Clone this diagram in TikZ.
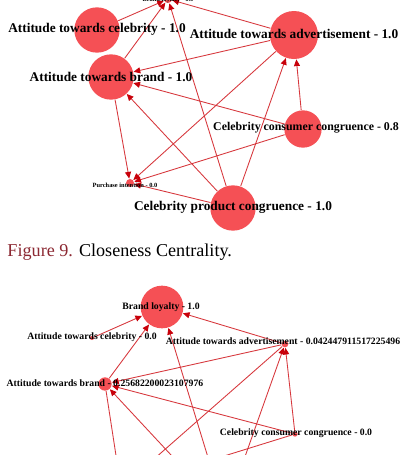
\documentclass[tikz,border=0pt]{standalone}
\usepackage{fontspec}
\setmainfont{Liberation Serif}
\usetikzlibrary{arrows.meta}

\definecolor{dotred}{RGB}{245,80,85}
\definecolor{edgered}{RGB}{215,55,60}
\definecolor{tipred}{RGB}{200,0,10}
\definecolor{capred}{RGB}{140,40,50}

\tikzset{every picture/.style={line width=0.75pt}}
\tikzset{
  dot/.style={circle,fill=dotred,draw=none,inner sep=0pt},
  edge/.style={draw=edgered,line width=0.65pt,-{Triangle[length=5pt,width=4.5pt,color=tipred]}},
  biglab/.style={font=\bfseries\fontsize{10}{11}\selectfont,inner sep=0.75pt},
  midlab/.style={font=\bfseries\fontsize{8.9}{10}\selectfont,inner sep=0.75pt},
  smalllab/.style={font=\bfseries\fontsize{7.3}{8}\selectfont,inner sep=0.75pt},
  tinylab/.style={font=\bfseries\fontsize{4.8}{5}\selectfont,inner sep=0.75pt}
}

\begin{document}
\begin{tikzpicture}[x=0.75pt,y=0.75pt,yscale=-1,xscale=1]
\useasboundingbox (0,0) rectangle (403,455);
\fill[white] (0,0) rectangle (403,455);
\clip (0,0) rectangle (403,455);

% ---- upper graph ----
%Shape: Circle
\node [dot,minimum size=6] (tBL) at (168,-1) {};
\node [dot,minimum size=34] (tATC) at (97,30) {};
\node [dot,minimum size=36] (tATA) at (294,35) {};
\node [dot,minimum size=34] (tATB) at (111,77) {};
\node [dot,minimum size=28] (tCCC) at (303,129) {};
\node [dot,minimum size=6] (tPI) at (130,183) {};
\node [dot,minimum size=34] (tCPC) at (233,208) {};

%Straight Lines
\draw [edge] (tATC) -- (tBL);
\draw [edge] (tATB) -- (tBL);
\draw [edge] (tCPC) -- (tBL);
\draw [edge] (tATA) -- (tBL);
\draw [edge] (tATA) -- (tATB);
\draw [edge] (tATA) -- (tPI);
\draw [edge] (tCCC) -- (tATA);
\draw [edge] (tCPC) -- (tATA);
\draw [edge] (tCCC) -- (tATB);
\draw [edge] (tCPC) -- (tATB);
\draw [edge] (tATB) -- (tPI);
\draw [edge] (tCCC) -- (tPI);
\draw [edge] (tCPC) -- (tPI);

% Text Node
\node [tinylab] (tBLlab) at (168,0) {Brand loyalty - 0.0};
\node [biglab] (tATClab) at (97,29) {Attitude towards celebrity - 1.0};
\node [biglab] (tATAlab) at (294,34) {Attitude towards advertisement - 1.0};
\node [biglab] (tATBlab) at (111,77) {Attitude towards brand - 1.0};
\node [midlab] (tCCClab) at (306,128) {Celebrity consumer congruence - 0.8};
\node [tinylab] (tPIlab) at (125,185) {Purchase intention - 0.0};
\node [biglab] (tCPClab) at (233,207) {Celebrity product congruence - 1.0};

% ---- caption ----
\node [anchor=base west,inner sep=0pt,font=\fontsize{13.6}{15}\selectfont] (cap) at (7,256) {\textcolor{capred}{Figure 9.} Closeness Centrality.};

% ---- lower graph ----
%Shape: Circle
\node [dot,minimum size=32] (bBL) at (162,307) {};
\node [dot,minimum size=3] (bATC) at (92,338) {};
\node [dot,minimum size=5] (bATA) at (285,344) {};
\node [dot,minimum size=10] (bATB) at (105,384) {};
\node [dot,minimum size=4] (bCCC) at (295,434) {};
\coordinate (bPI) at (121,488);
\coordinate (bCPC) at (225,513);

%Straight Lines
\draw [edge] (bATC) -- (bBL);
\draw [edge] (bATB) -- (bBL);
\draw [edge] (bCPC) -- (bBL);
\draw [edge] (bATA) -- (bBL);
\draw [edge] (bATA) -- (bATB);
\draw [edge] (bATA) -- (bPI);
\draw [edge] (bCCC) -- (bATA);
\draw [edge] (bCPC) -- (bATA);
\draw [edge] (bCCC) -- (bATB);
\draw [edge] (bCPC) -- (bATB);
\draw [edge] (bATB) -- (bPI);
\draw [edge] (bCCC) -- (bPI);

% Text Node
\node [smalllab] (bBLlab) at (161,307) {Brand loyalty - 1.0};
\node [smalllab] (bATClab) at (92,337) {Attitude towards celebrity - 0.0};
\node [smalllab] (bATAlab) at (283,341) {Attitude towards advertisement - 0.042447911517225496};
\node [smalllab] (bATBlab) at (105,383) {Attitude towards brand - 0.25682200023107976};
\node [smalllab] (bCCClab) at (296,433) {Celebrity consumer congruence - 0.0};

\end{tikzpicture}
\end{document}
